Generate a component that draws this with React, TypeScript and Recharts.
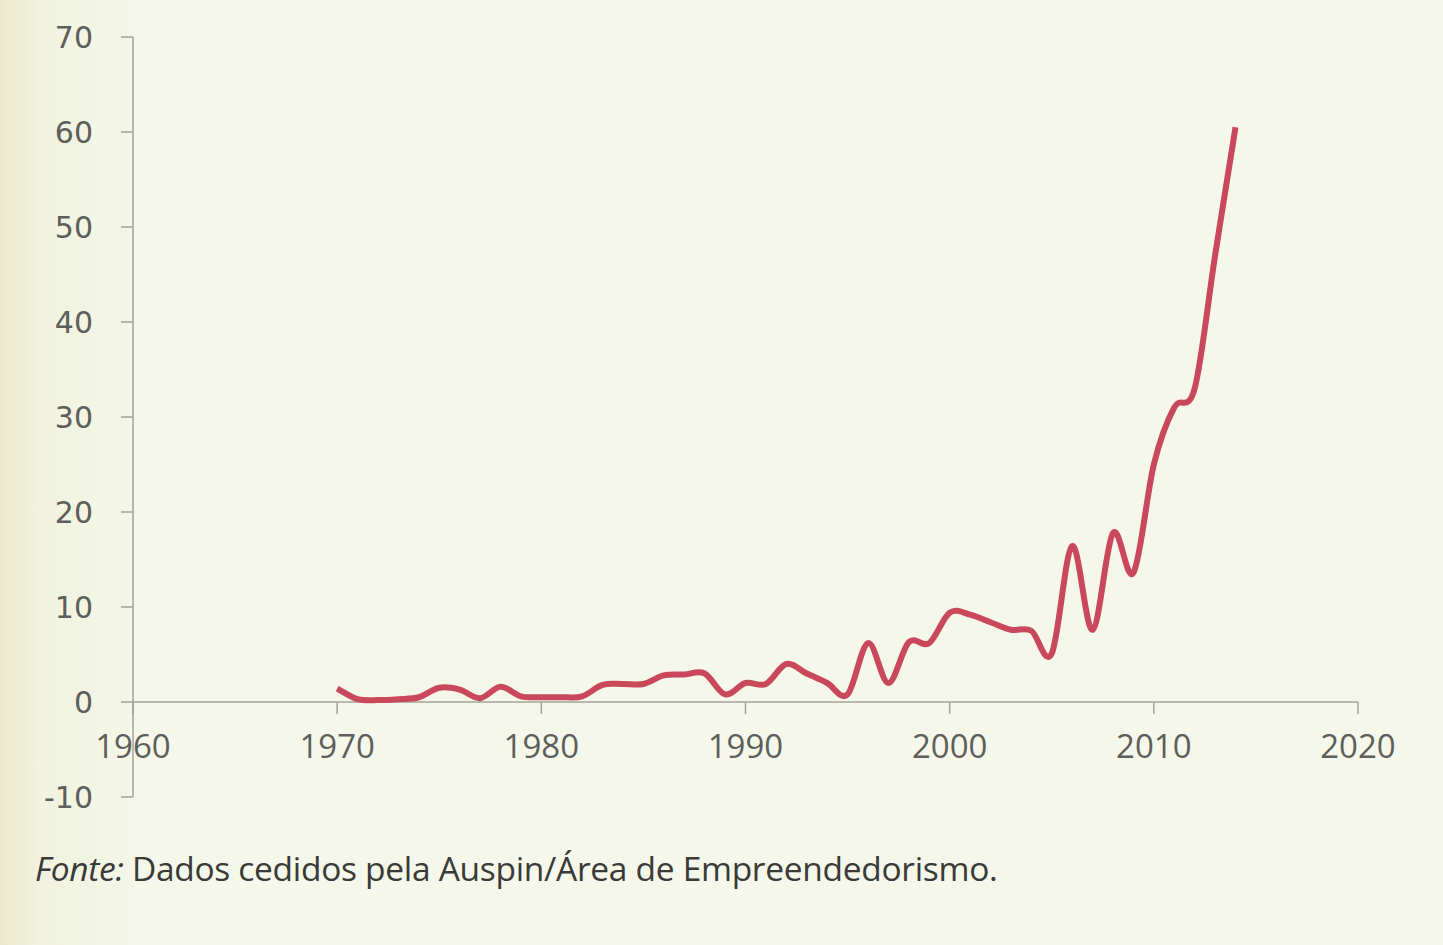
import { LineChart, Line, XAxis, YAxis, ReferenceLine } from 'recharts';

// Values (smoothed Excel line)
const years = [
  1970, 1971, 1972, 1973, 1974, 1975, 1976, 1977, 1978, 1979,
  1980, 1981, 1982, 1983, 1984, 1985, 1986, 1987, 1988, 1989,
  1990, 1991, 1992, 1993, 1994, 1995, 1996, 1997, 1998, 1999,
  2000, 2001, 2002, 2003, 2004, 2005, 2006, 2007, 2008, 2009,
  2010, 2011, 2012, 2013, 2014,
];
const values = [
  1.4, 0.3, 0.2, 0.3, 0.5, 1.5, 1.3, 0.4, 1.6, 0.6,
  0.5, 0.5, 0.6, 1.8, 1.9, 1.9, 2.8, 2.9, 3.0, 0.8,
  2.0, 1.9, 4.0, 3.0, 2.0, 0.8, 6.2, 2.0, 6.3, 6.2,
  9.4, 9.2, 8.4, 7.6, 7.5, 5.1, 16.4, 7.6, 17.8, 13.6,
  25.0, 31.0, 33.0, 47.0, 60.5,
];
const xTicks = [1960, 1970, 1980, 1990, 2000, 2010, 2020];
const yTicks = [-10, 0, 10, 20, 30, 40, 50, 60, 70];

const Y_MIN = -10;
const Y_MAX = 70;

const W = 1443;
const H = 945;
const X_AXIS_H = 30;
const MARGIN = { top: 37, right: 85, bottom: 148 - X_AXIS_H, left: 0 };
const PLOT_H = H - MARGIN.top - MARGIN.bottom - X_AXIS_H;
// distance from the bottom of the plot up to the value 0, where the x axis sits
const ZERO_RISE = (PLOT_H * (0 - Y_MIN)) / (Y_MAX - Y_MIN);

const AXIS_GREY = '#a3a39a';
const LABEL_GREY = '#5e5e5a';

const data = years.map((year, i) => ({ year, value: values[i] }));

// Excel-like smoothed line (uniform Catmull-Rom as cubic Beziers)
function smoothCurve(context: any) {
  let pts: [number, number][] = [];
  return {
    areaStart() {},
    areaEnd() {},
    lineStart() {
      pts = [];
    },
    lineEnd() {
      const n = pts.length;
      if (!n) return;
      context.moveTo(pts[0][0], pts[0][1]);
      const t = 1 / 6;
      for (let i = 0; i < n - 1; i++) {
        const p0 = pts[i - 1] ?? pts[i];
        const p1 = pts[i];
        const p2 = pts[i + 1];
        const p3 = pts[i + 2] ?? p2;
        context.bezierCurveTo(
          p1[0] + (p2[0] - p0[0]) * t,
          p1[1] + (p2[1] - p0[1]) * t,
          p2[0] - (p3[0] - p1[0]) * t,
          p2[1] - (p3[1] - p1[1]) * t,
          p2[0],
          p2[1],
        );
      }
    },
    point(x: number, y: number) {
      pts.push([+x, +y]);
    },
  };
}

function XTick({ x, y, payload }: { x?: number; y?: number; payload?: { value: number } }) {
  const y0 = (y ?? 0) - ZERO_RISE;
  return (
    <g>
      <line x1={x} x2={x} y1={y0} y2={y0 + 12} stroke={AXIS_GREY} strokeWidth={1.5} />
      <text
        x={x}
        y={y0 + 56}
        textAnchor="middle"
        fontFamily="'Open Sans', sans-serif"
        fontSize={33}
        fill={LABEL_GREY}
      >
        {payload?.value}
      </text>
    </g>
  );
}

export default function App() {
  return (
    <div
      style={{
        position: 'absolute',
        left: 0,
        top: 0,
        width: W,
        height: H,
        overflow: 'hidden',
        background: 'linear-gradient(to right, #ebe8cc 0px, #f1f3df 40px, #f4f7e9 140px, #f4f7ea 100%)',
      }}
    >
      <LineChart width={W} height={H} data={data} margin={MARGIN}>
        <XAxis
          dataKey="year"
          type="number"
          domain={[1960, 2020]}
          ticks={xTicks}
          axisLine={false}
          tickLine={false}
          tickSize={0}
          tickMargin={0}
          height={X_AXIS_H}
          interval={0}
          tick={(props: any) => <XTick {...props} />}
        />
        <YAxis
          type="number"
          domain={[Y_MIN, Y_MAX]}
          ticks={yTicks}
          width={133}
          interval={0}
          axisLine={{ stroke: AXIS_GREY, strokeWidth: 1.5 }}
          tickLine={{ stroke: AXIS_GREY, strokeWidth: 1.5 }}
          tickSize={12}
          tickMargin={28}
          tick={{ fontSize: 30, fill: LABEL_GREY, fontFamily: "'DejaVu Sans', Verdana, sans-serif" }}
        />
        <ReferenceLine y={0} stroke={AXIS_GREY} strokeWidth={1.5} />
        <Line
          type={smoothCurve as any}
          dataKey="value"
          stroke="#c9485b"
          strokeWidth={6}
          dot={false}
          isAnimationActive={false}
        />
      </LineChart>
      <div
        style={{
          position: 'absolute',
          left: 35,
          top: 845,
          fontFamily: "'Open Sans', sans-serif",
          fontSize: 33.5,
          color: '#3a3a38',
          whiteSpace: 'nowrap',
          letterSpacing: -0.3,
        }}
      >
        <i>Fonte:</i> Dados cedidos pela Auspin/Área de Empreendedorismo.
      </div>
    </div>
  );
}
